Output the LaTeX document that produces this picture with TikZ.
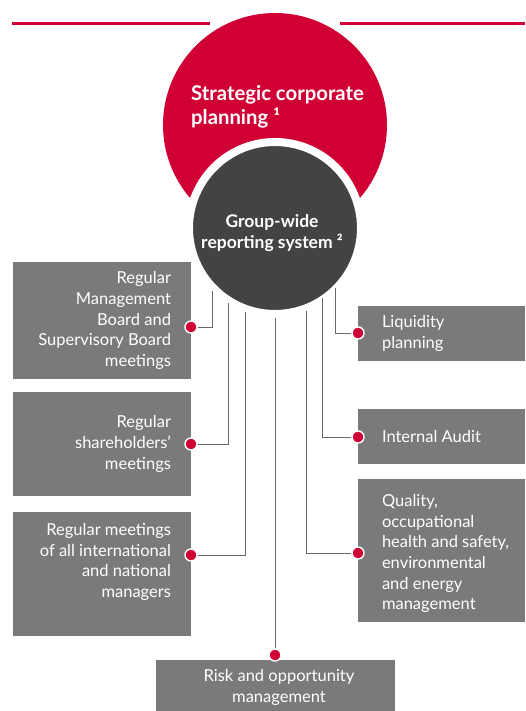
\documentclass[tikz,border=0pt]{standalone}
\usepackage{fontspec}
\setmainfont{Lato}
\usepackage{tikz}
\usetikzlibrary{positioning}
\usetikzlibrary{calc}

\definecolor{corpred}{RGB}{208,0,52}
\definecolor{darkcirc}{RGB}{67,67,67}
\definecolor{boxgray}{RGB}{122,122,122}
\definecolor{linkgray}{RGB}{105,105,105}

\tikzset{
  topbox/.style={rectangle, fill=boxgray, inner sep=0pt},
  boxtext/.style={text=white, inner sep=0pt, font=\fontsize{16.5}{20.7}\selectfont},
  ltext/.style={boxtext, align=right},
  rtext/.style={boxtext, align=left},
  btext/.style={boxtext, align=center},
  dot/.style={circle, fill=corpred, draw=white, line width=1.4pt, minimum size=12pt, inner sep=0pt},
  link/.style={draw=linkgray, line width=1pt},
  redrule/.style={draw=corpred, line width=2.2pt}
}

\begin{document}
\begin{tikzpicture}[x=1pt, y=-1pt]
  \useasboundingbox (0,0) rectangle (525,711);

  % red rule behind the big circle
  \path[redrule] (12,23.5) -- (210,23.5);
  \path[redrule] (340,23.5) -- (525,23.5);

  % the two circles
  \node[circle, fill=corpred, minimum size=224pt, inner sep=0pt] (plan)   at (275,125) {};
  \node[circle, fill=darkcirc, draw=white, line width=8pt,
        minimum size=172pt, inner sep=0pt]                       (report) at (275,228) {};

  \node[text=white, align=left, anchor=west, inner sep=0pt,
        font=\fontsize{20.3}{24}\selectfont\bfseries] (plantext) at (191,107)
        {Strategic corporate\\planning ¹};
  \node[text=white, align=center, inner sep=0pt,
        font=\fontsize{17.5}{21}\selectfont\bfseries] (reporttext) at (272,233)
        {Group-wide\\reporting system ²};

  % boxes on the left
  \node[topbox, minimum width=178pt, minimum height=117pt] (meet_1) at (102,320.5) {};
  \node[topbox, minimum width=178pt, minimum height=104pt] (meet_2) at (102,444)   {};
  \node[topbox, minimum width=178pt, minimum height=124pt] (meet_3) at (102,574)   {};

  \node[ltext, left=20pt of meet_1.east]             (mtext_1) {Regular\\Management\\Board and\\Supervisory Board\\meetings};
  \node[ltext, left=20pt of meet_2.east]             (mtext_2) {Regular\\shareholders’\\meetings};
  \node[ltext, left=20pt of meet_3.east, yshift=12pt] (mtext_3) {Regular meetings\\of all international\\and national\\managers};

  % boxes on the right
  \node[topbox, minimum width=167pt, minimum height=55pt]  (ctrl_1) at (441.5,333.5) {};
  \node[topbox, minimum width=167pt, minimum height=55pt]  (ctrl_2) at (441.5,436.5) {};
  \node[topbox, minimum width=167pt, minimum height=143pt] (ctrl_3) at (441.5,550.5) {};

  \node[rtext, right=24pt of ctrl_1.west]               (ctext_1) {Liquidity\\planning};
  \node[rtext, right=24pt of ctrl_2.west]               (ctext_2) {Internal Audit};
  \node[rtext, right=24pt of ctrl_3.west, yshift=-3pt]  (ctext_3) {Quality,\\occupational\\health and safety,\\environmental\\and energy\\management};

  % box at the bottom
  \node[topbox, minimum width=239pt, minimum height=51pt] (risk) at (275.5,685.5) {};
  \node[btext, yshift=-2pt] (risktext) at (279,685.5) {Risk and opportunity\\management};

  % red dots
  \node[dot] (d_1) at (191,327) {};
  \node[dot] (d_2) at (191,444) {};
  \node[dot] (d_3) at (191,555) {};
  \node[dot] (d_4) at (275,655) {};
  \node[dot] (d_5) at (358,333) {};
  \node[dot] (d_6) at (358,437) {};
  \node[dot] (d_7) at (358,553) {};

  % free ends below the dark circle
  \coordinate (e_1) at (212,291);
  \coordinate (e_2) at (228,303);
  \coordinate (e_3) at (245,312);
  \coordinate (e_4) at (275,318);
  \coordinate (e_5) at (335,288);
  \coordinate (e_6) at (322,298);
  \coordinate (e_7) at (306,311);

  \path[link]
    (d_1.east)  -| (e_1)
    (d_2.east)  -| (e_2)
    (d_3.east)  -| (e_3)
    (d_4.north) -- (e_4)
    (d_5.west)  -| (e_5)
    (d_6.west)  -| (e_6)
    (d_7.west)  -| (e_7);

\end{tikzpicture}
\end{document}
